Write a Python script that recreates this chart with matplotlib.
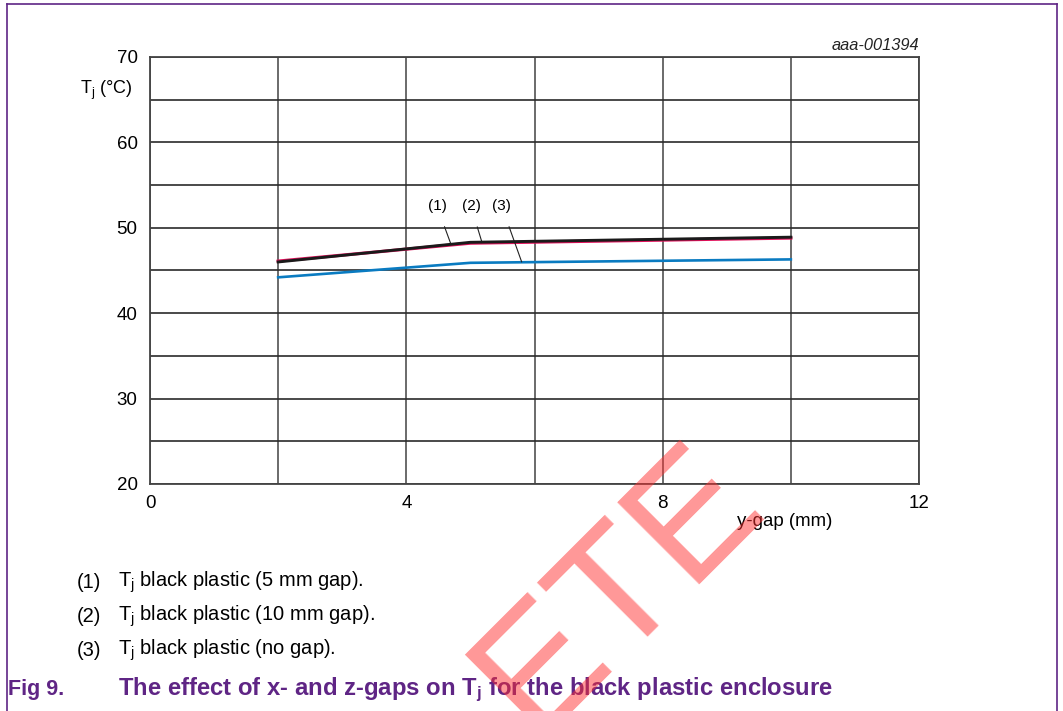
import numpy as np
import matplotlib.pyplot as plt
from matplotlib.lines import Line2D

plt.rcParams['font.family'] = ['Liberation Sans', 'DejaVu Sans']
plt.rcParams['mathtext.fontset'] = 'custom'
plt.rcParams['mathtext.rm'] = 'Liberation Sans'
plt.rcParams['mathtext.it'] = 'Liberation Sans:italic'
plt.rcParams['mathtext.bf'] = 'Liberation Sans:bold'

# data
ygap = [2, 5, 10]
tj_5mm = [46.0, 48.3, 48.9]    # (1) black
tj_10mm = [46.1, 48.2, 48.8]   # (2) red
tj_nogap = [44.2, 45.9, 46.3]  # (3) blue

xticks = [0, 4, 8, 12]
yticks = [20, 30, 40, 50, 60, 70]
legend_items = ['(1)', '(2)', '(3)']
legend_texts = ['black plastic (5 mm gap).',
                'black plastic (10 mm gap).',
                'black plastic (no gap).']

purple = '#5f2585'

fig = plt.figure(figsize=(10.63, 7.11), dpi=100)
ax = fig.add_axes([150 / 1063, 1 - 484 / 711, 769 / 1063, 427 / 711])

ax.set_xlim(0, 12)
ax.set_ylim(20, 70)
ax.set_xticks(np.arange(0, 13, 2))
ax.set_yticks(np.arange(20, 71, 5))
ax.set_xticklabels([str(v) if v in xticks else '' for v in range(0, 13, 2)])
ax.set_yticklabels([str(v) if v in yticks else '' for v in range(20, 71, 5)])
ax.tick_params(length=0, labelsize=13.5, pad=8)
ax.tick_params(axis='y', pad=9)
ax.xaxis.grid(True, color='#6a6a6a', lw=1.4)
ax.yaxis.grid(True, color='#2a2a2a', lw=1.2)
for s in ax.spines.values():
    s.set_color('#444444')
    s.set_linewidth(1.3)

# lines
ax.plot(ygap, tj_nogap, color='#0a7bc1', lw=1.9, zorder=3)
ax.plot(ygap, tj_10mm, color='#e0105a', lw=2.3, zorder=3)
ax.plot(ygap, tj_5mm, color='#1a1a1a', lw=2.1, zorder=4)

# curve labels with leader lines
lead = dict(arrowstyle='-', lw=0.8, color='#222222', shrinkA=8, shrinkB=0)
ax.annotate('(1)', xy=(4.69, 48.2), xytext=(4.48, 52.5), fontsize=11,
            ha='center', va='center', arrowprops=lead)
ax.annotate('(2)', xy=(5.18, 48.3), xytext=(5.01, 52.5), fontsize=11,
            ha='center', va='center', arrowprops=lead)
ax.annotate('(3)', xy=(5.80, 46.0), xytext=(5.49, 52.5), fontsize=11,
            ha='center', va='center', arrowprops=lead)

# axis labels
fig.text(133 / 1063, 1 - 90 / 711, r'T$_\mathregular{j}$ (°C)', fontsize=13,
         ha='right', va='center')
fig.text(785 / 1063, 1 - 522 / 711, 'y-gap (mm)', fontsize=13.4, ha='center', va='center')
fig.text(919 / 1063, 1 - 45 / 711, 'aaa-001394', fontsize=11.8, style='italic',
         ha='right', va='center', color='#222222')

# legend text below the chart
for i, (k, t) in enumerate(zip(legend_items, legend_texts)):
    y = 1 - (582 + i * 34) / 711
    fig.text(77 / 1063, y, k, fontsize=14.5, ha='left', va='center')
    fig.text(118 / 1063, y, r'T$_\mathregular{j}$ ' + t, fontsize=14.5, ha='left', va='center')

# caption
fig.text(8 / 1063, 1 - 690 / 711, 'Fig 9.', fontsize=15.5, fontweight='bold',
         color=purple, ha='left', va='center')
fig.text(118 / 1063, 1 - 690 / 711,
         r'The effect of x- and z-gaps on T$_\mathbf{j}$ for the black plastic enclosure',
         fontsize=17.2, fontweight='bold', color=purple, ha='left', va='center')

# page frame
fig.add_artist(Line2D([7 / 1063, 7 / 1063], [0, 1 - 4 / 711], color=purple, lw=1.2))
fig.add_artist(Line2D([7 / 1063, 1057 / 1063], [1 - 4 / 711, 1 - 4 / 711], color=purple, lw=1.2))
fig.add_artist(Line2D([1057 / 1063, 1057 / 1063], [0, 1 - 4 / 711], color=purple, lw=1.2))

# watermark (only its last letters fall inside the page)
fig.text(766 / 1063, 1 - 504 / 711, 'ETE', fontsize=122, rotation=45,
         rotation_mode='anchor', ha='right', va='baseline',
         color='#ff3030', alpha=0.5, zorder=10)

fig.savefig('out.png', dpi=100)
